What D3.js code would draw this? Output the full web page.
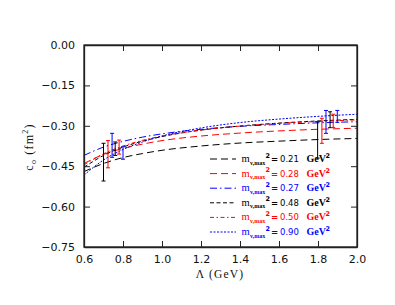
<!DOCTYPE html>
<html><head><meta charset="utf-8">
<script src="https://cdn.jsdelivr.net/npm/d3@7"></script>
<style>body{margin:0;background:#fff;overflow:hidden}</style>
</head><body><svg id="c" width="395" height="305"></svg>
<script>
// ---- data ----
const lambda = [0.6, 0.7, 0.8, 0.9, 1.0, 1.2, 1.4, 1.6, 1.8, 2.0];
const c0_021 = [-0.470, -0.440, -0.418, -0.403, -0.391, -0.375, -0.364, -0.357, -0.351, -0.347];
const c0_028 = [-0.440, -0.406, -0.384, -0.368, -0.355, -0.338, -0.327, -0.319, -0.313, -0.309];
const c0_027 = [-0.410, -0.379, -0.358, -0.342, -0.330, -0.313, -0.302, -0.295, -0.289, -0.285];
const c0_048 = [-0.454, -0.410, -0.379, -0.357, -0.340, -0.316, -0.301, -0.290, -0.282, -0.276];
const c0_050 = [-0.445, -0.404, -0.375, -0.354, -0.338, -0.316, -0.301, -0.291, -0.284, -0.278];
const c0_090 = [-0.483, -0.427, -0.388, -0.360, -0.338, -0.308, -0.288, -0.275, -0.265, -0.257];
const mLabels = ["0.21", "0.28", "0.27", "0.48", "0.50", "0.90"];

const errLambda = [0.700, 0.723, 0.744, 0.760, 0.780, 0.800, 1.798, 1.820, 1.841, 1.862, 1.878, 1.899];
const errLow    = [-0.505, -0.456, -0.417, -0.410, -0.405, -0.424, -0.420, -0.365, -0.328, -0.307, -0.306, -0.287];
const errHigh   = [-0.365, -0.355, -0.328, -0.360, -0.353, -0.378, -0.285, -0.272, -0.243, -0.248, -0.257, -0.243];
const errSeries = [0, 1, 2, 0, 1, 2, 0, 1, 2, 0, 1, 2];

const xTicks = [0.6, 0.8, 1.0, 1.2, 1.4, 1.6, 1.8, 2.0];
const yTicks = [0.00, -0.15, -0.30, -0.45, -0.60, -0.75];

// ---- styles ----
const seriesData = [c0_021, c0_028, c0_027, c0_048, c0_050, c0_090];
const seriesColor = ["#000", "#ff0000", "#0000ff", "#000", "#ff0000", "#0000ff"];
const seriesDash = ["7,4", "7,4", "7,3,1.5,3", "4,2.5", "4,2.5,1.5,2.5", "2,1.5"];
const errColor = ["#000", "#ff0000", "#0000ff"];
const sans = "DejaVu Sans, Verdana, sans-serif";
const serif = "Liberation Serif, Times New Roman, serif";

const svg = d3.select("#c");
const L = 84, R = 357, T = 45, B = 247;
const x = d3.scaleLinear().domain([0.6, 2.0]).range([L, R]);
const y = d3.scaleLinear().domain([-0.75, 0]).range([B, T]);
const axisColor = "#222";

// curves
const line = d3.line().x((d, i) => x(lambda[i])).y(d => y(d)).curve(d3.curveMonotoneX);
svg.append("clipPath").attr("id", "cl").append("rect")
  .attr("x", L).attr("y", T).attr("width", R - L).attr("height", B - T);
const g = svg.append("g").attr("clip-path", "url(#cl)");
seriesData.forEach((s, k) => {
  g.append("path").attr("d", line(s)).attr("fill", "none")
    .attr("stroke", seriesColor[k]).attr("stroke-width", 1)
    .attr("stroke-dasharray", seriesDash[k]);
});

// error bars
errLambda.forEach((lx, i) => {
  const c = errColor[errSeries[i]];
  const xx = x(lx);
  g.append("line").attr("x1", xx).attr("x2", xx).attr("y1", y(errLow[i])).attr("y2", y(errHigh[i]))
    .attr("stroke", c).attr("stroke-width", 1);
  [errLow[i], errHigh[i]].forEach(v => {
    g.append("line").attr("x1", xx - 2).attr("x2", xx + 2).attr("y1", y(v)).attr("y2", y(v))
      .attr("stroke", c).attr("stroke-width", 1);
  });
});

// axes
const tickLen = 6;
const fmtY = v => (v < 0 ? "\u2212" : "") + Math.abs(v).toFixed(2);
const axB = svg.append("g").attr("transform", `translate(0,${B})`)
  .call(d3.axisBottom(x).tickValues(xTicks).tickSizeInner(-tickLen).tickSizeOuter(0).tickPadding(8).tickFormat(d3.format(".1f")));
const axT = svg.append("g").attr("transform", `translate(0,${T})`)
  .call(d3.axisTop(x).tickValues(xTicks).tickSizeInner(-tickLen).tickSizeOuter(0).tickFormat(""));
const axL = svg.append("g").attr("transform", `translate(${L},0)`)
  .call(d3.axisLeft(y).tickValues(yTicks).tickSizeInner(-tickLen).tickSizeOuter(0).tickPadding(9).tickFormat(fmtY));
const axR = svg.append("g").attr("transform", `translate(${R},0)`)
  .call(d3.axisRight(y).tickValues(yTicks).tickSizeInner(-tickLen).tickSizeOuter(0).tickFormat(""));
[axB, axT, axL, axR].forEach(a => {
  a.select(".domain").attr("stroke", axisColor).attr("stroke-width", 1.3);
  a.selectAll(".tick line").attr("stroke", axisColor).attr("stroke-width", 1);
  a.selectAll("text").attr("font-family", sans).attr("font-size", 11).attr("fill", "#111");
});
axB.selectAll("text").attr("dy", "0.71em");
svg.append("rect").attr("x", L).attr("y", T).attr("width", R - L).attr("height", B - T)
  .attr("fill", "none").attr("stroke", axisColor).attr("stroke-width", 1.3);

// axis titles
svg.append("text").attr("x", 220).attr("y", 278).attr("text-anchor", "middle")
  .attr("font-family", serif).attr("font-size", 11.5).attr("letter-spacing", 1.2).attr("fill", "#111")
  .text("\u039B  (GeV)");

const yt = svg.append("text").attr("transform", "translate(33,147) rotate(-90)").attr("text-anchor", "middle")
  .attr("font-family", serif).attr("font-size", 12).attr("letter-spacing", 1.2).attr("fill", "#111");
yt.append("tspan").text("c");
yt.append("tspan").attr("font-size", 8).attr("dy", 3).text("o");
yt.append("tspan").attr("dy", -3).text("  (fm");
yt.append("tspan").attr("font-size", 8).attr("dy", -5).text("2");
yt.append("tspan").attr("dy", 5).text(")");

// legend
const legY0 = 159, legDy = 14.6;
mLabels.forEach((m, k) => {
  const yy = legY0 + k * legDy;
  svg.append("line").attr("x1", 210).attr("x2", 236).attr("y1", yy).attr("y2", yy)
    .attr("stroke", seriesColor[k]).attr("stroke-width", 1).attr("stroke-dasharray", seriesDash[k]);
  const base = yy + 3;
  const t = svg.append("g").attr("fill", seriesColor[k]);
  t.append("text").attr("x", 241.5).attr("y", base).attr("font-family", serif).attr("font-size", 10.5).text("m");
  t.append("text").attr("x", 250).attr("y", base + 2.5).attr("font-family", serif).attr("font-size", 6).attr("font-weight", "bold").text("v,max");
  t.append("text").attr("x", 265.5).attr("y", base - 4.5).attr("font-family", sans).attr("font-size", 6.5).attr("font-weight", "bold").text("2");
  t.append("text").attr("x", 271).attr("y", base).attr("font-family", sans).attr("font-size", 8.5).attr("font-weight", "bold").text("=");
  t.append("text").attr("x", 280).attr("y", base).attr("font-family", sans).attr("font-size", 8.5).text(m);
  t.append("text").attr("x", 306.5).attr("y", base).attr("font-family", serif).attr("font-size", 10).attr("font-weight", "bold").text("GeV");
  t.append("text").attr("x", 325.5).attr("y", base - 4).attr("font-family", sans).attr("font-size", 6.5).attr("font-weight", "bold").text("2");
});
</script>
</body></html>
